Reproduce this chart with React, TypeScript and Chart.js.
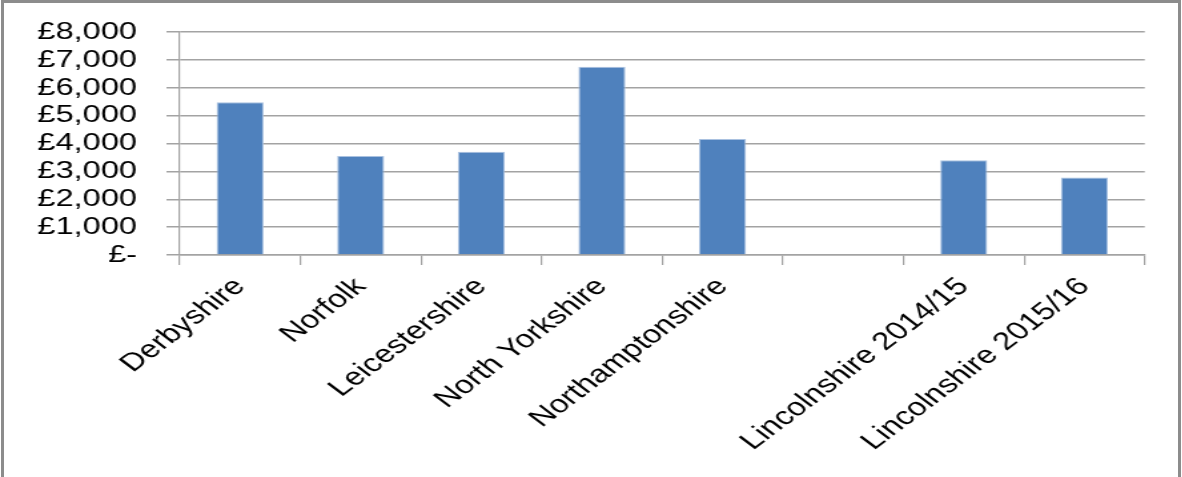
import React, { useEffect, useRef } from "react";
import { Chart, registerables } from "chart.js";

Chart.register(...registerables);

const categories: string[] = [
  "Derbyshire",
  "Norfolk",
  "Leicestershire",
  "North Yorkshire",
  "Northamptonshire",
  "",
  "Lincolnshire 2014/15",
  "Lincolnshire 2015/16",
];
const costs: (number | null)[] = [5480, 3550, 3700, 6750, 4160, null, 3400, 2780];
const yMin = 0;
const yMax = 8000;
const yStep = 1000;

const STRETCH = 1.33;
const W = 1182 / STRETCH;
const H = 477;
const FONT = "'Liberation Sans', Arial, sans-serif";

function fmt(v: number): string {
  if (v === 0) return "£-";
  return "£" + v.toLocaleString("en-GB");
}

export default function App() {
  const ref = useRef<HTMLCanvasElement | null>(null);
  useEffect(() => {
    if (!ref.current) return;
    const grid = "#a3a3a3";
    const chart = new Chart(ref.current, {
      type: "bar",
      data: {
        labels: categories,
        datasets: [
          {
            data: costs,
            backgroundColor: "#4F81BD",
            borderColor: "#a9c1e0",
            borderWidth: 1,
            categoryPercentage: 1,
            barPercentage: 0.39,
          },
        ],
      },
      options: {
        animation: false,
        responsive: true,
        maintainAspectRatio: false,
        layout: { padding: { top: 32, right: 29, left: 0, bottom: 0 } },
        plugins: { legend: { display: false }, tooltip: { enabled: false } },
        scales: {
          x: {
            offset: true,
            grid: {
              display: true,
              drawOnChartArea: false,
              drawTicks: true,
              tickLength: 10,
              offset: true,
              color: grid,
              lineWidth: 1.2,
            },
            border: { display: true, color: grid, width: 1.5 },
            ticks: {
              autoSkip: false,
              maxRotation: 45,
              minRotation: 45,
              padding: 7,
              color: "#000",
              font: { family: FONT, size: 25 },
            },
            afterFit: (scale: any) => {
              scale.height = 222;
            },
          },
          y: {
            min: yMin,
            max: yMax,
            grid: {
              color: grid,
              lineWidth: 1.5,
              tickLength: 10,
              drawTicks: true,
            },
            border: { display: true, color: grid, width: 1.2 },
            ticks: {
              stepSize: yStep,
              autoSkip: false,
              padding: 22,
              color: "#000",
              font: { family: FONT, size: 24.5 },
              callback: (v: any) => fmt(Number(v)),
            },
            afterFit: (scale: any) => {
              scale.width = 135;
              scale.paddingTop = 0;
              scale.paddingBottom = 0;
            },
          },
        },
      },
    });
    return () => chart.destroy();
  }, []);

  return (
    <div
      style={{
        position: "fixed",
        left: 0,
        top: 0,
        width: 1182,
        height: H,
        background: "#fff",
        overflow: "hidden",
      }}
    >
      <div
        style={{
          position: "absolute",
          left: 0,
          top: 0,
          width: W,
          height: H,
          transform: `scaleX(${STRETCH})`,
          transformOrigin: "0 0",
        }}
      >
        <canvas ref={ref} />
      </div>
      <div
        style={{
          position: "absolute",
          left: 1,
          top: 0,
          width: 1180,
          height: H + 10,
          boxSizing: "border-box",
          borderLeft: "3px solid #8c8c8c",
          borderTop: "3px solid #8c8c8c",
          borderRight: "3px solid #8c8c8c",
          pointerEvents: "none",
        }}
      />
    </div>
  );
}
